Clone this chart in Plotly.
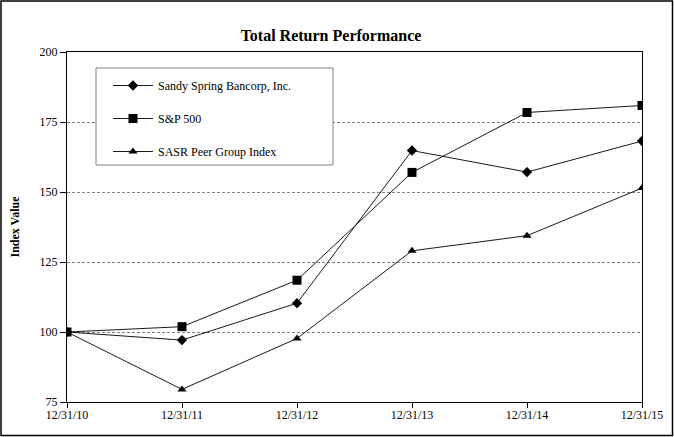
import plotly.graph_objects as go

dates = ["12/31/10", "12/31/11", "12/31/12", "12/31/13", "12/31/14", "12/31/15"]
sandy = [100, 97.1, 110.3, 164.8, 157.1, 168.2]
sp500 = [100, 101.9, 118.5, 157.0, 178.4, 180.9]
peer = [100, 79.5, 97.7, 129.0, 134.4, 151.4]
yticks = [75, 100, 125, 150, 175, 200]

FONT = "Liberation Serif"

fig = go.Figure()
series = [
    ("Sandy Spring Bancorp, Inc.", sandy, "diamond", 8),
    ("S&P 500", sp500, "square", 9),
    ("SASR Peer Group Index", peer, "triangle-up", 8),
]
for i, (name, vals, sym, sz) in enumerate(series):
    fig.add_trace(go.Scatter(
        x=dates, y=vals, name=name, mode="lines+markers",
        line=dict(color="#1a1a1a", width=1),
        marker=dict(symbol=sym, size=sz, color="black"),
        legendgroup=f"g{i}",
    ))

L, R, T, B = 67, 32, 52, 35
PW, PH = 674 - L - R, 437 - T - B
fig.update_layout(
    width=674, height=437,
    margin=dict(l=L, r=R, t=T, b=B),
    paper_bgcolor="white", plot_bgcolor="white",
    font=dict(family=FONT, size=12, color="black"),
    title=dict(text="<b>Total Return Performance</b>", x=331/674, xanchor="center",
               y=1 - 35/437, yanchor="middle", font=dict(size=16, family=FONT, color="black")),
    showlegend=True,
    legend=dict(x=(108-L)/PW, y=(437-B-71)/PH, xanchor="left", yanchor="top",
                borderwidth=0, bgcolor="rgba(0,0,0,0)",
                tracegroupgap=14, itemwidth=40,
                font=dict(size=12, family=FONT, color="black")),
    xaxis=dict(type="category", range=[0, 5], showgrid=False, automargin=False,
               showline=True, linecolor="black", linewidth=1, mirror=True,
               ticks="outside", ticklen=5, tickcolor="black", ticklabelstandoff=-3,
               tickfont=dict(size=12, color="black"), zeroline=False),
    yaxis=dict(range=[75, 200], tickvals=yticks, showgrid=True, automargin=False,
               gridcolor="#808080", griddash="3px,2px", gridwidth=1,
               showline=True, linecolor="black", linewidth=1, mirror=True,
               ticks="outside", ticklen=6, tickcolor="black",
               tickfont=dict(size=12, color="black"), zeroline=False,
               title=dict(text="<b>Index Value</b>", font=dict(size=12, color="black"), standoff=17)),
    shapes=[
        dict(type="rect", xref="paper", yref="paper",
             x0=(1-L)/PW, x1=(672.5-L)/PW, y0=(437-B-435.5)/PH, y1=(437-B-1)/PH,
             line=dict(color="black", width=1.5), layer="below"),
        dict(type="rect", xref="paper", yref="paper",
             x0=(96-L)/PW, x1=(333-L)/PW, y0=(437-B-165)/PH, y1=(437-B-68)/PH,
             line=dict(color="#808080", width=1), fillcolor="white", layer="above"),
    ],
)

fig.write_html(
    "out.html",
    config={"displayModeBar": False},
    post_script="document.body.style.margin='0';document.body.style.overflow='hidden';"
                "document.documentElement.style.overflow='hidden';",
)
